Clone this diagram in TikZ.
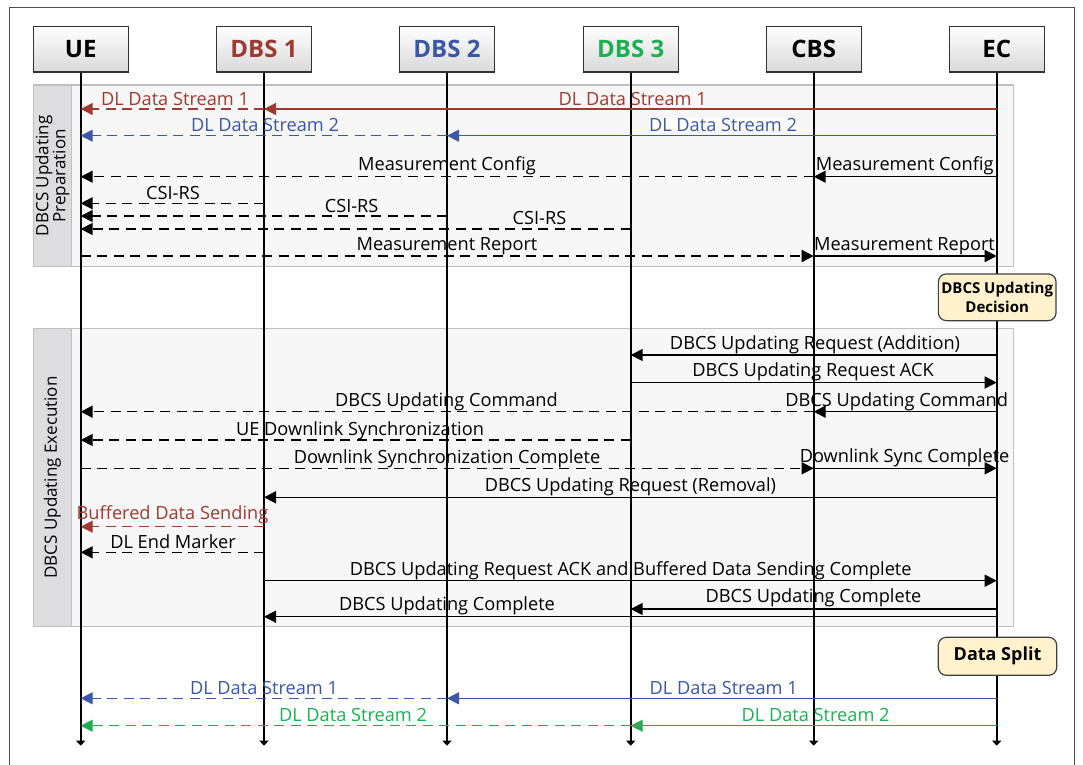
\documentclass[tikz,border=0pt]{standalone}
\usepackage{fontspec}
\setmainfont{Open Sans}
\usetikzlibrary{arrows.meta}
\definecolor{cred}{RGB}{158,58,50}
\definecolor{cblue}{RGB}{59,87,167}
\definecolor{cgreen}{RGB}{30,176,80}
\definecolor{panelbg}{RGB}{247,247,247}
\definecolor{panelbd}{RGB}{192,192,192}
\definecolor{labelbg}{RGB}{221,221,223}
\definecolor{notebg}{RGB}{255,242,204}
\tikzset{
  hdr/.style={draw=black!80, line width=1.3pt, top color=white, bottom color=black!15,
    minimum width=95pt, minimum height=45.7pt, inner sep=0pt,
    font=\fontsize{24}{28}\selectfont\bfseries},
  life/.style={line width=1.9pt, -{Triangle[length=5pt,width=9pt]}},
  msg/.style={line width=1.5pt, -{Triangle[length=12pt,width=12pt]}},
  dmsg/.style={msg, dash pattern=on 10pt off 6.5pt},
  cmsg/.style={line width=1.3pt, -{Triangle[length=12pt,width=12pt]}},
  dcmsg/.style={cmsg, dash pattern=on 10pt off 6.5pt},
  lbl/.style={font=\fontsize{18.2}{21}\selectfont, inner sep=0pt, anchor=base},
  note/.style={draw=black!75, line width=1.2pt, fill=notebg, rounded corners=8pt,
    inner sep=0pt, align=center},
  panel/.style={draw=panelbd, line width=1.2pt, fill=panelbg},
  phase/.style={draw=panelbd, line width=1.2pt, fill=labelbg},
  phaselbl/.style={font=\fontsize{17}{17}\selectfont, align=center, inner sep=0pt, rotate=90}
}
\begin{document}
\begin{tikzpicture}[x=1pt,y=-1pt]
\useasboundingbox (0,0) rectangle (1083,764);
\clip (0,0) rectangle (1083,764);
\fill[white] (0,0) rectangle (1083,764);
\draw[black!70, line width=1pt] (9.3,7.7) rectangle (1074.3,800);

% phase panels
\path[panel] (33.3,85) rectangle (1013.3,266.7);
\path[phase] (33.3,85) rectangle (71.7,266.7);
\node[phaselbl] (prepL) at (52.5,175.8) {DBCS Updating\\Preparation};
\path[panel] (33.3,328.3) rectangle (1013.3,626.7);
\path[phase] (33.3,328.3) rectangle (71.7,626.7);
\node[phaselbl] (execL) at (52.5,477.5) {DBCS Updating Execution};

% participants
\node[hdr] (ue) at (80.7,49.2) {UE};
\node[hdr,text=cred] (d1) at (264,49.2) {DBS 1};
\node[hdr,text=cblue] (d2) at (447,49.2) {DBS 2};
\node[hdr,text=cgreen] (d3) at (630.7,49.2) {DBS 3};
\node[hdr] (cbs) at (813.7,49.2) {CBS};
\node[hdr] (ec) at (996.7,49.2) {EC};

\foreach \p in {ue,d1,d2,d3,cbs,ec}
  \draw[life] (\p.south) -- (\p.south |- 0,745.7);

% notes
\node[note, minimum width=117.7pt, minimum height=46.7pt,
  font=\fontsize{15}{19}\selectfont\bfseries] (dec) at (997.2,297.3) {DBCS Updating\\Decision};
\node[note, minimum width=118.4pt, minimum height=38pt,
  font=\fontsize{18}{21}\selectfont\bfseries] (split) at (997.5,656.3) {Data Split};

% ---- preparation ----
\draw[cmsg,cred] (ec |- 0,109) -- (d1 |- 0,109);
\draw[dcmsg,cred] (d1 |- 0,109) -- (ue |- 0,109);
\node[lbl,text=cred] (l1a) at (175,105) {DL Data Stream 1};
\node[lbl,text=cred] (l1b) at (632.7,105) {DL Data Stream 1};

\draw[cmsg,cblue] (ec |- 0,135.7) -- (d2 |- 0,135.7);
\draw[dcmsg,cblue] (d2 |- 0,135.7) -- (ue |- 0,135.7);
\node[lbl,text=cblue] (l2a) at (265,131) {DL Data Stream 2};
\node[lbl,text=cblue,fill=white] (l2b) at (723,131) {DL Data Stream 2};

\draw[msg] (ec |- 0,176.7) -- (cbs |- 0,176.7);
\draw[dmsg] (cbs |- 0,176.7) -- (ue |- 0,176.7);
\node[lbl] (l3a) at (447,170) {Measurement Config};
\node[lbl] (l3b) at (904.7,170) {Measurement Config};

\draw[dmsg] (d1 |- 0,203.3) -- (ue |- 0,203.3);
\node[lbl] (l4) at (173,199.3) {CSI-RS};
\draw[dmsg] (d2 |- 0,216) -- (ue |- 0,216);
\node[lbl] (l5) at (351.6,212) {CSI-RS};
\draw[dmsg] (d3 |- 0,229) -- (ue |- 0,229);
\node[lbl] (l6) at (539.5,224) {CSI-RS};

\draw[dmsg] (ue |- 0,256) -- (cbs |- 0,256);
\draw[msg] (cbs |- 0,256) -- (ec |- 0,256);
\node[lbl] (l7a) at (447,250) {Measurement Report};
\node[lbl] (l7b) at (904.5,250) {Measurement Report};

% ---- execution ----
\draw[msg] (ec |- 0,355) -- (d3 |- 0,355);
\node[lbl] (e1) at (815,349) {DBCS Updating Request (Addition)};
\draw[msg] (d3 |- 0,382.5) -- (ec |- 0,382.5);
\node[lbl] (e2) at (813,376.7) {DBCS Updating Request ACK};

\draw[msg] (ec |- 0,411.7) -- (cbs |- 0,411.7);
\draw[dmsg] (cbs |- 0,411.7) -- (ue |- 0,411.7);
\node[lbl] (e3a) at (446.5,406.5) {DBCS Updating Command};
\node[lbl] (e3b) at (896.7,406) {DBCS Updating Command};

\draw[dmsg] (d3 |- 0,440) -- (ue |- 0,440);
\node[lbl] (e4) at (360,435) {UE Downlink Synchronization};

\draw[dmsg] (ue |- 0,468.3) -- (cbs |- 0,468.3);
\draw[msg] (cbs |- 0,468.3) -- (ec |- 0,468.3);
\node[lbl] (e5a) at (447,463.3) {Downlink Synchronization Complete};
\node[lbl] (e5b) at (904.6,462.7) {Downlink Sync Complete};

\draw[msg] (ec |- 0,497.3) -- (d1 |- 0,497.3);
\node[lbl] (e6) at (630.4,491.7) {DBCS Updating Request (Removal)};

\draw[dcmsg,cred] (d1 |- 0,526.7) -- (ue |- 0,526.7);
\node[lbl,text=cred] (e7) at (172.5,519.7) {Buffered Data Sending};

\draw[dmsg] (d1 |- 0,552.3) -- (ue |- 0,552.3);
\node[lbl] (e8) at (173,548.3) {DL End Marker};

\draw[msg] (d1 |- 0,580.7) -- (ec |- 0,580.7);
\node[lbl] (e9) at (630.7,575) {DBCS Updating Request ACK and Buffered Data Sending Complete};

\draw[msg] (ec |- 0,609) -- (d3 |- 0,609);
\node[lbl] (e10) at (813.5,602.3) {DBCS Updating Complete};
\draw[msg] (ec |- 0,616.7) -- (d1 |- 0,616.7);
\node[lbl] (e11) at (447,610.7) {DBCS Updating Complete};

% ---- after split ----
\draw[cmsg,cblue] (ec |- 0,698.3) -- (d2 |- 0,698.3);
\draw[dcmsg,cblue] (d2 |- 0,698.3) -- (ue |- 0,698.3);
\node[lbl,text=cblue] (f1a) at (264,694) {DL Data Stream 1};
\node[lbl,text=cblue] (f1b) at (723.7,694) {DL Data Stream 1};

\draw[cmsg,cgreen] (ec |- 0,725.7) -- (d3 |- 0,725.7);
\draw[dcmsg,cgreen] (d3 |- 0,725.7) -- (ue |- 0,725.7);
\node[lbl,text=cgreen] (f2a) at (353,721.7) {DL Data Stream 2};
\node[lbl,text=cgreen] (f2b) at (815.6,721.7) {DL Data Stream 2};
\end{tikzpicture}
\end{document}
